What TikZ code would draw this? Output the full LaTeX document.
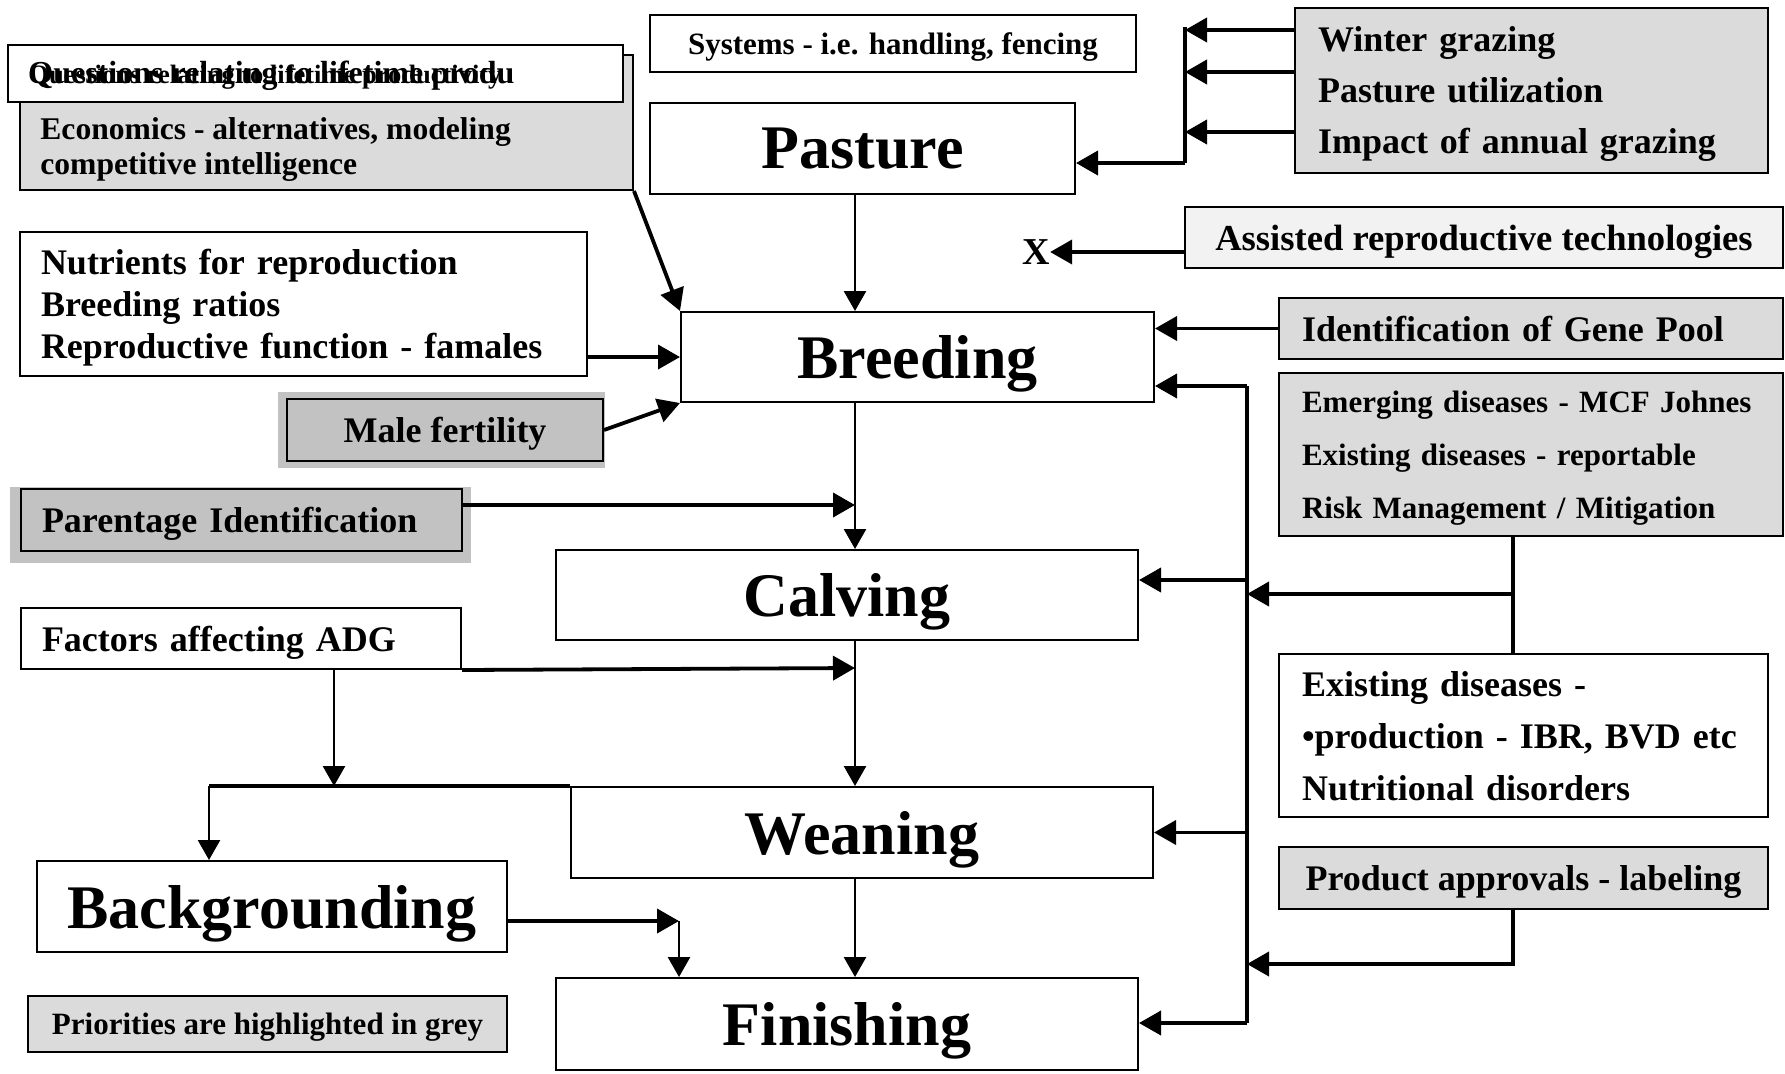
\documentclass[tikz,border=0pt]{standalone}
\usepackage{fontspec}
\setmainfont{Liberation Serif}
\usetikzlibrary{arrows.meta}

\definecolor{prioGrey}{gray}{0.86}
\definecolor{keyGrey}{gray}{0.76}
\definecolor{dotGrey}{gray}{0.95}

\newcommand{\fsStage}{\fontsize{31}{36}\selectfont\bfseries}
\newcommand{\fsMid}{\fontsize{18}{21}\selectfont\bfseries}
\newcommand{\fsSmall}{\fontsize{15.5}{17.5}\selectfont\bfseries}

\tikzset{
  box/.style={draw, line width=1pt, fill=white, inner sep=0pt, text depth=0pt},
  stage/.style={box, font=\fsStage},
  prio/.style={box, fill=prioGrey},
  key/.style={box, fill=keyGrey},
  flow/.style={line width=1.3pt, -{Triangle[length=10pt,width=11pt]}},
  feed/.style={line width=1.9pt, -{Triangle[length=11pt,width=12pt]}},
  feedline/.style={line width=1.9pt},
}

\begin{document}
\begin{tikzpicture}[x=0.5pt,y=-0.5pt]
  \useasboundingbox[fill=white] (0,0) rectangle (1785,1073);

  % questions / economics
  \node[prio, minimum width=306.5pt, minimum height=67.5pt] (econ) at (326.5,122.5) {};
  \node[anchor=west, align=left, inner sep=0pt, font=\fontsize{15.8}{17.5}\selectfont\bfseries] (econtxt) at (40,149.5)
    {Economics - alternatives, modeling\\competitive intelligence};
  \node[box, minimum width=307.5pt, minimum height=28.5pt] (quest) at (315.5,73.5) {};
  \node[anchor=base west, inner sep=0pt, font=\fontsize{13.25}{15}\selectfont\bfseries] (questa) at (28,83)
    {Questions relating to lifetime productivity};
  \node[anchor=base west, inner sep=0pt, font=\fontsize{16}{18}\selectfont\bfseries] (questb) at (28,83)
    {Questions relating to lifetime produ};

  % stages
  \node[box, font=\fsSmall, minimum width=243pt, minimum height=28.5pt] (sys) at (893,43.5) {Systems - i.e. handling, fencing};
  \node[stage, minimum width=212.5pt, minimum height=45.5pt] (pasture) at (862.5,148.5) {Pasture};
  \node[stage, minimum width=236.5pt, minimum height=45pt] (breed) at (917.5,357) {Breeding};
  \node[stage, minimum width=291pt, minimum height=45pt] (calv) at (847,595) {Calving};
  \node[stage, minimum width=291pt, minimum height=45.5pt] (wean) at (862,832.5) {Weaning};
  \node[stage, minimum width=235pt, minimum height=45.5pt] (backg) at (272,906.5) {Backgrounding};
  \node[stage, minimum width=291pt, minimum height=46pt] (fin) at (847,1024) {Finishing};

  % left side
  \node[box, font=\fsMid, minimum width=283.5pt, minimum height=72pt, text width=262.5pt, align=left, text depth=42pt] (nutr) at (303.5,304)
    {Nutrients for reproduction\\Breeding ratios\\Reproductive function - famales};
  \fill[keyGrey] (278,392) rectangle (605,468);
  \node[key, font=\fsMid, minimum width=158pt, minimum height=31pt] (male) at (445,430) {Male fertility};
  \fill[keyGrey] (10,487) rectangle (471,563);
  \node[key, font=\fsMid, minimum width=220.5pt, minimum height=31pt, text width=199.5pt, align=left] (parent) at (241.5,520) {Parentage Identification};
  \node[box, font=\fsMid, minimum width=220pt, minimum height=30.5pt, text width=199pt, align=left] (adg) at (241,638.5) {Factors affecting ADG};
  \node[prio, font=\fsSmall, minimum width=239.5pt, minimum height=28pt] (legend) at (267.5,1024) {Priorities are highlighted in grey};

  % right side
  \node[prio, font=\fontsize{18}{25.5}\selectfont\bfseries, minimum width=236.5pt, minimum height=82.5pt, text width=213.5pt, align=left, text depth=51pt] (winter) at (1531.5,90.5)
    {Winter grazing\\Pasture utilization\\Impact of annual grazing};
  \node[box, fill=dotGrey, font=\fontsize{18.3}{21}\selectfont\bfseries, minimum width=299pt, minimum height=30.5pt] (assist) at (1484,237.5) {Assisted reproductive technologies};
  \node[font=\fontsize{19}{22}\selectfont\bfseries, inner sep=0pt] (xmark) at (1036,252) {X};
  \node[prio, font=\fsMid, minimum width=252pt, minimum height=30.5pt, text width=229pt, align=left] (gene) at (1531,328.5) {Identification of Gene Pool};
  \node[prio, font=\fontsize{15.5}{26.5}\selectfont\bfseries, minimum width=252pt, minimum height=81.5pt, text width=229pt, align=left, text depth=53pt] (emerg) at (1531,454.5)
    {Emerging diseases - MCF Johnes\\Existing diseases - reportable\\Risk Management / Mitigation};
  \node[box, font=\fontsize{18}{26}\selectfont\bfseries, minimum width=244.5pt, minimum height=81.5pt, text width=221.5pt, align=left, text depth=52pt] (exist) at (1523.5,735.5)
    {Existing diseases -\\•production - IBR, BVD etc\\Nutritional disorders};
  \node[prio, font=\fsMid, minimum width=244.5pt, minimum height=31pt] (prod) at (1523.5,878) {Product approvals - labeling};

  % turning points
  \coordinate (spine) at (855,0);
  \coordinate (wbus) at (1185,27);
  \coordinate (wturn) at (1185,163);
  \coordinate (rbus) at (1247,386);
  \coordinate (rturn) at (1247,1023);
  \coordinate (dstem) at (1513,594);
  \coordinate (pstem) at (1513,964);
  \coordinate (pid) at (855,505);
  \coordinate (adgin) at (855,668);
  \coordinate (adgdrop) at (334,786);
  \coordinate (split) at (209,786);
  \coordinate (bgturn) at (679,921);

  % main chain
  \draw[flow] (spine |- pasture.south) -- (spine |- breed.north);
  \draw[flow] (spine |- breed.south) -- (spine |- calv.north);
  \draw[flow] (spine |- calv.south) -- (spine |- wean.north);
  \draw[flow] (spine |- wean.south) -- (spine |- fin.north);

  % pasture inputs
  \foreach \y in {30,72,132} \draw[feed] (winter.west |- 0,\y) -- (wbus |- 0,\y);
  \draw[feedline] (wbus) -- (wturn);
  \draw[feed] (wturn) -- (wturn -| pasture.east);
  \draw[feed] (assist.west |- xmark) -- (xmark.east);

  % left inputs
  \draw[feed] (econ.south east) -- (breed.north west);
  \draw[feed] (nutr.east |- breed.west) -- (breed.west);
  \draw[feed] (male.east) -- (breed.south west);
  \draw[feed] (parent.east |- pid) -- (pid);
  \draw[feed] (adg.south east) -- (adgin);
  \draw[flow] (adg.south -| adgdrop) -- (adgdrop);
  \draw[feedline] (split) -- (wean.north west);
  \draw[flow] (split) -- (split |- backg.north);
  \draw[feed] (backg.east |- bgturn) -- (bgturn);
  \draw[flow] (bgturn) -- (bgturn |- fin.north);

  % right inputs
  \draw[feed] (gene.west) -- (gene.west -| breed.east);
  \draw[feedline] (rbus) -- (rturn);
  \draw[feed] (rbus) -- (rbus -| breed.east);
  \draw[feed] (rbus |- 0,580) -- (calv.east |- 0,580);
  \draw[feed] (rbus |- wean.east) -- (wean.east);
  \draw[feed] (rturn) -- (rturn -| fin.east);
  \draw[feedline] (dstem |- emerg.south) -- (dstem |- exist.north);
  \draw[feed] (dstem) -- (dstem -| rbus);
  \draw[feed] (pstem |- prod.south) -- (pstem) -- (pstem -| rbus);
\end{tikzpicture}
\end{document}
